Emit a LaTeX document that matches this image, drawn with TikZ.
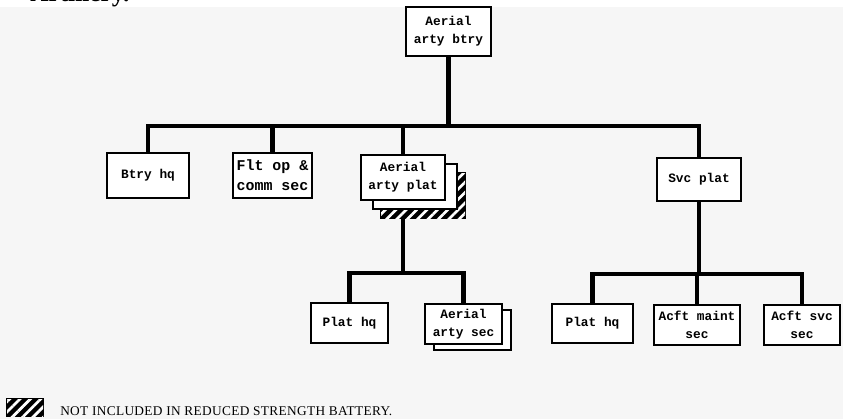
\documentclass[tikz,border=0pt]{standalone}
\usepackage{fontspec}
\setmainfont{Liberation Serif}
\newfontfamily\boxfont{Liberation Mono}
\newfontfamily\legendfont[LetterSpace=2.6]{Liberation Serif}
\usetikzlibrary{patterns.meta}
\definecolor{paper}{RGB}{246,246,246}
\begin{document}
\begin{tikzpicture}[x=0.75pt,y=-0.75pt,
  unit/.style={draw=black, line width=1.1pt, fill=white, inner sep=0pt, align=center,
    font=\boxfont\bfseries\fontsize{9.6}{13.5}\selectfont},
  backbox/.style={draw=black, line width=1.1pt, fill=white},
  hatchbox/.style={draw=black, line width=1pt, fill=black,
    postaction={pattern={Lines[angle=45,distance=5.5pt,line width=2pt]}, pattern color=white}},
  link/.style={line width=3.2pt, line join=miter}]
\useasboundingbox (0,0) rectangle (843,419);
\fill[white] (0,0) rectangle (843,419);
\fill[paper] (0,7) rectangle (843,419);
% caption cut at top
\node[anchor=base west, inner sep=0pt, font=\bfseries\fontsize{19}{20}\selectfont] (caption) at (30,1) {Artillery.};
% boxes
\node[unit, minimum width=63.75pt, minimum height=36.75pt] (top) at (448.5,31.5) {Aerial\\arty btry};
\node[unit, minimum width=61.5pt, minimum height=33.75pt] (btryhq) at (148,175.5) {Btry hq};
\node[unit, minimum width=59.25pt, minimum height=33.75pt, font=\boxfont\bfseries\fontsize{11.2}{15}\selectfont] (fltop) at (272.5,175.5) {Flt op \&\\comm sec};
\filldraw[hatchbox] (381,173) rectangle (465,218);
\filldraw[backbox] (373,164) rectangle (457,209);
\node[unit, minimum width=63pt, minimum height=33.75pt] (plat) at (403,177.5) {Aerial\\arty plat};
\node[unit, minimum width=63pt, minimum height=32.25pt] (svcplat) at (699,179.5) {Svc plat};
\node[unit, minimum width=57.75pt, minimum height=30pt] (plathqA) at (349.5,323) {Plat hq};
\filldraw[backbox] (434,310) rectangle (511,350);
\node[unit, minimum width=57.75pt, minimum height=30pt] (artysec) at (463.5,324) {Aerial\\arty sec};
\node[unit, minimum width=60.75pt, minimum height=29.25pt] (plathqB) at (592.5,323.5) {Plat hq};
\node[unit, minimum width=64.5pt, minimum height=30pt] (maint) at (697,325) {Acft maint\\sec};
\node[unit, minimum width=57pt, minimum height=30pt] (svcsec) at (802,325) {Acft svc\\sec};
% connectors
\coordinate (bar) at (0,126);
\coordinate (platbot) at (403,218);
\coordinate (subA) at (0,273);
\coordinate (subB) at (0,274);
\draw[link] (btryhq.north) -- (btryhq.north |- bar) -- (svcplat.north |- bar) -- (svcplat.north);
\draw[link] (top.south) -- (top.south |- bar);
\draw[link] (fltop.north) -- (fltop.north |- bar);
\draw[link] (plat.north) -- (plat.north |- bar);
\draw[link] (platbot) -- (platbot |- subA);
\draw[link] (plathqA.north) -- (plathqA.north |- subA) -- (artysec.north |- subA) -- (artysec.north);
\draw[link] (svcplat.south) -- (svcplat.south |- subB);
\draw[link] (plathqB.north) -- (plathqB.north |- subB) -- (svcsec.north |- subB) -- (svcsec.north);
\draw[link] (maint.north) -- (maint.north |- subB);
% legend
\filldraw[hatchbox] (7,399) rectangle (43,416);
\node[anchor=base west, inner sep=0pt, font=\legendfont\fontsize{10}{12}\selectfont] (legend) at (60,415) {NOT INCLUDED IN REDUCED STRENGTH BATTERY.};
\end{tikzpicture}
\end{document}
